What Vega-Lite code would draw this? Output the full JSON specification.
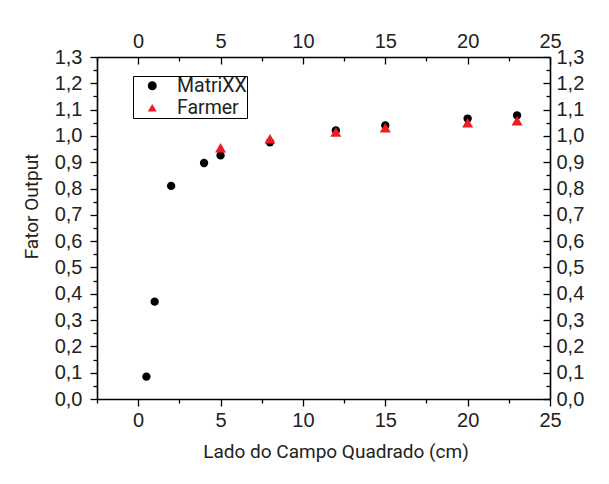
{
  "$schema": "https://vega.github.io/schema/vega-lite/v6.json",
  "width": 453,
  "height": 342,
  "autosize": {"type": "none"},
  "padding": {"left": 97, "top": 57, "right": 59, "bottom": 85},
  "background": "white",
  "config": {
    "locale": {"number": {"decimal": ",", "thousands": ".", "grouping": [3], "currency": ["", ""]}},
    "view": {"stroke": null},
    "axis": {
      "grid": false,
      "labelFont": "Liberation Sans",
      "labelFontSize": 20,
      "labelColor": "#222222",
      "titleFont": "Roboto",
      "titleFontSize": 19,
      "titleFontWeight": "normal",
      "titleColor": "#222222",
      "domainColor": "black",
      "domainWidth": 1.6,
      "tickColor": "black",
      "tickWidth": 1.3,
      "labelOverlap": false,
      "labelFlush": false
    }
  },
  "data": {
    "values": [
      {"lado": 0.5, "fator": 0.085, "series": "MatriXX"},
      {"lado": 1, "fator": 0.37, "series": "MatriXX"},
      {"lado": 2, "fator": 0.81, "series": "MatriXX"},
      {"lado": 4, "fator": 0.897, "series": "MatriXX"},
      {"lado": 5, "fator": 0.926, "series": "MatriXX"},
      {"lado": 8, "fator": 0.976, "series": "MatriXX"},
      {"lado": 12, "fator": 1.021, "series": "MatriXX"},
      {"lado": 15, "fator": 1.04, "series": "MatriXX"},
      {"lado": 20, "fator": 1.066, "series": "MatriXX"},
      {"lado": 23, "fator": 1.078, "series": "MatriXX"},
      {"lado": 5, "fator": 0.955, "series": "Farmer"},
      {"lado": 8, "fator": 0.989, "series": "Farmer"},
      {"lado": 12, "fator": 1.015, "series": "Farmer"},
      {"lado": 15, "fator": 1.031, "series": "Farmer"},
      {"lado": 20, "fator": 1.05, "series": "Farmer"},
      {"lado": 23, "fator": 1.058, "series": "Farmer"}
    ]
  },
  "layer": [
    {
      "transform": [{"filter": "datum.series === 'MatriXX'"}],
      "mark": {"type": "point", "filled": true, "opacity": 1, "size": 70, "strokeWidth": 0},
      "encoding": {
        "x": {
          "field": "lado", "type": "quantitative",
          "scale": {"domain": [-2.5, 25], "nice": false, "zero": false},
          "axis": {
            "orient": "bottom",
            "title": "Lado do Campo Quadrado (cm)",
            "values": [-2.5, 0, 2.5, 5, 7.5, 10, 12.5, 15, 17.5, 20, 22.5, 25],
            "labelExpr": "datum.value % 5 === 0 ? datum.label : ''",
            "tickSize": {"condition": {"test": "datum.value % 5 === 0", "value": 7}, "value": 4},
            "labelPadding": 4,
            "titleX": 238.5,
            "titleY": 58,
            "titleAnchor": null,
            "titleAlign": "center",
            "titleBaseline": "alphabetic"
          }
        },
        "y": {
          "field": "fator", "type": "quantitative",
          "scale": {"domain": [0, 1.3], "nice": false},
          "axis": {
            "orient": "left",
            "title": "Fator Output",
            "values": [0, 0.05, 0.1, 0.15, 0.2, 0.25, 0.3, 0.35, 0.4, 0.45, 0.5, 0.55, 0.6, 0.65, 0.7, 0.75, 0.8, 0.85, 0.9, 0.95, 1.0, 1.05, 1.1, 1.15, 1.2, 1.25, 1.3],
            "format": ".1f",
            "labelExpr": "abs(datum.value * 10 - round(datum.value * 10)) < 0.001 ? datum.label : ''",
            "tickSize": {"condition": {"test": "abs(datum.value * 10 - round(datum.value * 10)) < 0.001", "value": 7}, "value": 4},
            "labelPadding": 8,
            "titleX": -60,
            "titleY": 149,
            "titleAngle": 270,
            "titleAlign": "center",
            "titleBaseline": "alphabetic"
          }
        },
        "color": {
          "field": "series", "type": "nominal",
          "scale": {"domain": ["MatriXX", "Farmer"], "range": ["black", "#ec1c24"]},
          "legend": {
            "title": null,
            "orient": "none",
            "legendX": 36,
            "legendY": 19,
            "padding": 0,
            "strokeColor": "black",
            "fillColor": "white",
            "symbolSize": 80,
            "symbolStrokeWidth": 0,
            "symbolOffset": 9.5,
            "labelOffset": 15,
            "labelFont": "Roboto",
            "labelFontSize": 19.5,
            "labelColor": "#222222",
            "labelLimit": 300,
            "rowPadding": 1
          }
        },
        "shape": {
          "field": "series", "type": "nominal",
          "scale": {"domain": ["MatriXX", "Farmer"], "range": ["circle", "triangle-up"]},
          "legend": {
            "title": null,
            "orient": "none",
            "legendX": 36,
            "legendY": 19,
            "padding": 0,
            "strokeColor": "black",
            "fillColor": "white",
            "symbolSize": 80,
            "symbolStrokeWidth": 0,
            "symbolOffset": 9.5,
            "labelOffset": 15,
            "labelFont": "Roboto",
            "labelFontSize": 19.5,
            "labelColor": "#222222",
            "labelLimit": 300,
            "rowPadding": 1
          }
        }
      }
    },
    {
      "transform": [{"filter": "datum.series === 'Farmer'"}],
      "mark": {"type": "point", "filled": true, "opacity": 1, "size": 120, "strokeWidth": 0},
      "encoding": {
        "x": {
          "field": "lado", "type": "quantitative",
          "scale": {"domain": [-2.5, 25], "nice": false, "zero": false},
          "axis": {
            "orient": "top",
            "title": null,
            "values": [-2.5, 0, 2.5, 5, 7.5, 10, 12.5, 15, 17.5, 20, 22.5, 25],
            "labelExpr": "datum.value % 5 === 0 ? datum.label : ''",
            "tickSize": {"condition": {"test": "datum.value % 5 === 0", "value": -7}, "value": -4},
            "labelPadding": 13
          }
        },
        "y": {
          "field": "fator", "type": "quantitative",
          "scale": {"domain": [0, 1.3], "nice": false},
          "axis": {
            "orient": "right",
            "title": null,
            "values": [0, 0.05, 0.1, 0.15, 0.2, 0.25, 0.3, 0.35, 0.4, 0.45, 0.5, 0.55, 0.6, 0.65, 0.7, 0.75, 0.8, 0.85, 0.9, 0.95, 1.0, 1.05, 1.1, 1.15, 1.2, 1.25, 1.3],
            "format": ".1f",
            "labelExpr": "abs(datum.value * 10 - round(datum.value * 10)) < 0.001 ? datum.label : ''",
            "tickSize": {"condition": {"test": "abs(datum.value * 10 - round(datum.value * 10)) < 0.001", "value": -7}, "value": -4},
            "labelPadding": 13
          }
        },
        "color": {
          "field": "series", "type": "nominal",
          "scale": {"domain": ["MatriXX", "Farmer"], "range": ["black", "#ec1c24"]}
        },
        "shape": {
          "field": "series", "type": "nominal",
          "scale": {"domain": ["MatriXX", "Farmer"], "range": ["circle", "triangle-up"]}
        }
      }
    }
  ],
  "resolve": {"axis": {"x": "independent", "y": "independent"}}
}
